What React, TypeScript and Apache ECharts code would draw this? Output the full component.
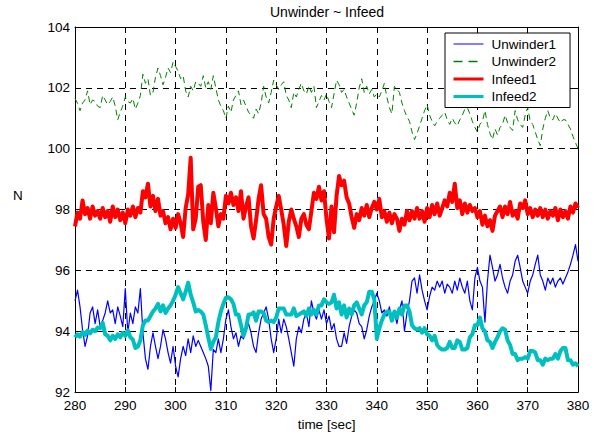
import React, { useEffect, useRef } from "react";
import * as echarts from "echarts";

const T_START = 280;
const T_STEP = 0.5;

const SERIES_NAMES = ["Unwinder1", "Unwinder2", "Infeed1", "Infeed2"];

const UNWINDER1 = [
  95.0, 95.35, 94.8, 94.05, 93.5, 93.85, 94.6, 94.8, 94.25, 94.7,
  94.15, 94.35, 94.6, 95.0, 94.6, 94.7, 94.25, 94.8, 94.5, 94.15,
  95.4, 93.95, 94.6, 94.25, 94.8, 94.6, 95.4, 93.95, 93.1, 92.75,
  93.5, 93.95, 93.5, 93.1, 93.5, 94.05, 93.75, 93.3, 92.95, 93.5,
  92.85, 92.5, 93.1, 93.5, 93.2, 93.75, 93.3, 93.85, 93.5, 93.7,
  93.5, 93.3, 93.1, 92.85, 92.05, 93.4, 93.3, 93.75, 93.3, 93.75,
  94.4, 94.7, 94.15, 93.75, 93.95, 93.5, 93.85, 93.75, 94.05, 94.25,
  93.95, 93.5, 93.3, 93.95, 94.4, 94.6, 94.8, 94.4, 93.75, 93.3,
  93.75, 94.4, 93.95, 94.4, 94.15, 93.75, 93.3, 92.85, 93.75, 94.15,
  93.95, 94.4, 94.6, 94.15, 95.0, 94.6, 94.4, 94.7, 94.4, 94.7,
  94.25, 94.5, 94.05, 94.25, 93.75, 93.5, 93.5, 93.95, 93.6, 94.15,
  94.5, 94.7, 94.6, 94.25, 94.15, 93.75, 94.05, 94.5, 94.8, 95.0,
  95.25, 95.0, 94.6, 94.7, 94.5, 94.8, 94.4, 94.6, 94.25, 94.7,
  95.0, 94.0, 94.6, 95.0, 95.65, 95.75, 95.25, 95.85, 95.35, 95.0,
  94.7, 95.15, 95.45, 95.35, 95.65, 95.45, 95.65, 95.25, 95.55, 95.45,
  95.25, 95.65, 95.35, 95.75, 95.45, 95.25, 95.65, 95.0, 94.7, 95.75,
  96.1, 95.65, 95.45, 94.3, 95.65, 96.5, 96.1, 95.65, 95.85, 96.2,
  95.75, 95.45, 95.25, 95.65, 95.85, 96.3, 96.5, 96.1, 95.65, 95.45,
  95.25, 95.65, 95.85, 96.2, 96.5, 95.85, 95.65, 95.35, 95.75, 95.55,
  95.75, 95.45, 95.65, 95.75, 95.55, 95.75, 95.95, 96.2, 96.5, 96.85,
  96.3,
];

const UNWINDER2 = [
  101.65, 101.5, 101.25, 101.5, 101.6, 101.9, 101.45, 101.6, 101.55, 101.4,
  101.35, 101.75, 101.6, 101.45, 101.55, 101.7, 101.4, 100.95, 101.2, 101.4,
  101.7, 101.55, 101.5, 101.65, 101.3, 101.5, 101.75, 102.45, 102.15, 102.3,
  101.75, 101.85, 102.35, 102.65, 102.4, 102.1, 102.35, 102.65, 102.5, 102.85,
  102.7, 102.55, 102.3, 102.4, 101.9, 101.7, 102.05, 101.9, 102.2, 102.15,
  102.05, 102.4, 102.0, 102.2, 101.95, 102.4, 102.0, 101.6, 101.4, 101.25,
  101.0, 101.4, 101.2, 101.6, 101.75, 101.9, 101.45, 101.6, 101.4, 101.2,
  101.1, 101.0, 101.3, 101.15, 101.5, 102.05, 101.7, 101.5, 101.85, 102.25,
  102.1, 101.95, 102.1, 102.2, 101.75, 101.6, 101.35, 101.85, 101.7, 101.95,
  102.15, 101.9, 101.8, 102.05, 101.85, 102.05, 101.35, 101.55, 101.75, 101.6,
  101.8, 101.55, 101.35, 101.8, 102.25, 102.1, 101.85, 101.95, 101.7, 101.5,
  101.3, 101.1, 101.5, 102.0, 102.3, 101.85, 102.05, 101.8, 101.95, 101.7,
  101.8, 101.7, 101.9, 102.15, 101.7, 101.35, 101.15, 102.05, 101.95, 101.85,
  101.5, 101.25, 101.05, 100.9, 100.55, 100.3, 100.5, 100.75, 101.0, 101.25,
  101.45, 101.1, 100.9, 100.75, 100.9, 101.0, 101.1, 101.2, 100.95, 100.8,
  101.0, 100.85, 100.75, 100.95, 101.1, 101.3, 101.35, 101.15, 100.9, 100.7,
  100.55, 100.8, 100.9, 101.25, 100.8, 100.5, 100.3, 100.65, 100.45, 100.7,
  100.8, 101.1, 100.85, 100.7, 100.6, 101.25, 100.95, 100.8, 100.7, 101.1,
  101.35, 100.9, 100.8, 100.55, 100.3, 100.1, 100.65, 101.0, 101.25, 101.0,
  100.95, 101.15, 101.0, 100.85, 100.95, 100.95, 100.8, 100.65, 100.4, 100.2,
  100.0,
];

const INFEED1 = [
  97.45, 97.9, 97.7, 98.3, 97.85, 98.05, 97.7, 98.1, 97.8, 97.95,
  97.7, 98.05, 97.75, 97.95, 97.6, 98.1, 97.75, 98.0, 97.65, 97.9,
  97.55, 98.0, 97.8, 98.1, 97.75, 98.05, 97.9, 98.6, 98.4, 98.85,
  98.1, 98.45, 97.95, 98.35, 97.8, 97.95, 97.55, 97.75, 97.35, 97.7,
  97.4, 97.85, 97.55, 97.1, 98.05, 98.5, 99.7, 97.35, 97.7, 98.75,
  98.8, 97.6, 97.0, 98.15, 97.55, 98.55, 98.05, 97.45, 97.85, 97.7,
  98.45, 98.2, 98.55, 98.15, 98.4, 97.95, 98.6, 97.7, 98.1, 98.4,
  97.45, 97.05, 97.65, 98.35, 98.8, 97.85, 97.7, 97.1, 96.85, 97.7,
  98.1, 98.45, 98.0, 97.5, 96.8, 97.6, 98.0, 97.7, 97.45, 97.1,
  97.7, 97.85, 97.5, 97.35, 97.95, 98.55, 98.35, 98.75, 98.3, 98.6,
  97.7, 97.05, 98.1, 97.25, 98.45, 99.1, 98.8, 98.95, 98.4, 98.2,
  97.75, 97.4, 97.85, 97.65, 98.05, 97.8, 98.15, 97.75, 98.05, 98.25,
  98.0, 98.35, 97.75, 97.95, 97.6, 97.9, 97.55, 97.85, 97.7, 97.3,
  97.7, 97.5, 97.95, 97.65, 97.95, 97.7, 98.05, 97.7, 97.95, 97.6,
  98.05, 97.75, 98.15, 97.85, 98.2, 97.8, 98.05, 98.3, 98.1, 98.55,
  98.25, 98.85, 98.05, 98.3, 97.85, 98.2, 97.9, 98.15, 97.95, 98.05,
  97.75, 97.95, 97.5, 97.8, 97.45, 97.65, 97.3, 97.8, 97.95, 98.1,
  97.75, 98.1, 97.85, 98.25, 97.8, 97.95, 97.7, 98.2, 98.05, 98.3,
  97.85, 98.05, 97.75, 98.0, 97.8, 98.05, 97.75, 98.0, 97.7, 97.95,
  97.8, 98.05, 97.65, 98.0, 97.75, 97.95, 97.7, 98.1, 97.9, 98.2,
  98.05,
];

const INFEED2 = [
  93.8, 93.9, 93.82, 93.97, 93.88, 94.02, 93.93, 94.05, 94.0, 94.12,
  94.1, 94.28, 93.9, 93.85, 93.7, 93.85, 93.75, 93.9, 93.8, 93.95,
  93.85, 94.03, 93.8, 93.73, 93.45, 93.5, 93.7, 94.2, 94.35, 94.35,
  94.5, 94.65, 94.75, 94.9, 94.65, 94.85, 94.6, 94.75, 94.85, 95.0,
  95.2, 95.45, 95.25, 95.05, 95.3, 95.6, 95.2, 94.95, 94.65, 94.7,
  94.65, 94.55, 94.2, 93.8, 93.42, 93.65, 93.8, 94.3, 94.65, 94.9,
  95.1, 95.12, 95.05, 94.9, 94.55, 94.55, 94.2, 93.85, 94.1, 94.55,
  94.55, 94.62, 94.35, 94.65, 94.65, 94.6, 94.35, 94.3, 94.35, 94.3,
  94.45, 94.75, 94.75, 94.75, 94.55, 94.55, 94.55, 94.75, 94.5, 94.55,
  94.6, 94.65, 94.5, 94.75, 94.55, 94.7, 94.55, 94.85, 94.85, 95.05,
  94.95, 94.9, 94.95, 95.2, 94.75, 94.95, 94.55, 94.85, 94.45, 94.75,
  94.55, 94.85, 94.95, 94.75, 94.55, 94.85, 94.95, 95.3, 95.3, 95.05,
  93.75, 94.1, 94.35, 94.55, 94.65, 94.65, 94.35, 94.65, 94.45, 94.75,
  94.55, 94.85, 94.85, 94.65, 94.2, 94.1, 94.05, 94.1, 93.95, 94.1,
  93.9, 93.85, 93.7, 93.85, 93.55, 93.45, 93.4, 93.4, 93.45, 93.65,
  93.45, 93.45, 93.7, 93.65, 93.4, 93.4, 93.45, 93.8, 93.9, 94.2,
  94.2, 94.45, 94.1, 94.0, 93.7, 93.65, 93.45, 93.65, 93.8, 94.0,
  94.1, 94.05, 93.7, 93.55, 93.25, 93.25, 93.05, 93.1, 93.1, 93.15,
  93.1, 93.35, 93.35, 93.3, 93.05, 93.05, 92.9, 93.1, 93.05, 93.1,
  93.1, 93.25, 93.1, 93.35, 93.45, 93.45, 93.05, 93.05, 92.9, 92.95,
  92.85,
];

const FONT = '"Liberation Sans", Arial, Helvetica, sans-serif';
const FS = 13.5;

const SERIES_STYLE = [
  { color: "#0000ff", width: 1.2, type: "solid" as any },
  { color: "#008000", width: 1, type: [6, 4] as any },
  { color: "#ff0000", width: 4, type: "solid" as any },
  { color: "#00bfbf", width: 4, type: "solid" as any },
];
const LEGEND_WIDTHS = [1, 1.6, 3, 3];

function toPairs(values: number[]) {
  return values.map((v, i) => [T_START + i * T_STEP, v]);
}

export default function App() {
  const ref = useRef<HTMLDivElement>(null);

  useEffect(() => {
    if (!ref.current) return;
    const chart = echarts.init(ref.current, undefined, { renderer: "svg" });

    const axisCommon = {
      axisLine: { show: true, lineStyle: { color: "#000", width: 1 } },
      axisTick: { show: true, inside: true, length: 5, lineStyle: { color: "#000", width: 1 } },
    };

    const allValues = [UNWINDER1, UNWINDER2, INFEED1, INFEED2];

    chart.setOption({
      animation: false,
      backgroundColor: "#fff",
      title: {
        text: "Unwinder ~ Infeed",
        left: 327,
        top: 5,
        padding: 0,
        textAlign: "center",
        textStyle: { fontFamily: FONT, fontSize: 14, fontWeight: "normal", color: "#000" },
      },
      legend: {
        orient: "vertical",
        left: 445,
        top: 33,
        padding: [4, 14, 4, 7],
        itemGap: 3.5,
        itemWidth: 30,
        itemHeight: 14,
        backgroundColor: "#fff",
        borderColor: "#000",
        borderWidth: 1,
        borderRadius: 0,
        itemStyle: { opacity: 0 },
        textStyle: { fontFamily: FONT, fontSize: FS, color: "#000", padding: [0, 0, 0, 3] },
        data: SERIES_NAMES.map((name, i) => ({
          name,
          itemStyle: { opacity: 0 },
          lineStyle: {
            color: SERIES_STYLE[i].color,
            width: LEGEND_WIDTHS[i],
            type: i === 1 ? [9, 6] : "solid",
          },
        })),
      },
      grid: { left: 75, right: 23, top: 27, bottom: 41, containLabel: false },
      xAxis: [
        {
          type: "value",
          position: "bottom",
          min: 280,
          max: 380,
          interval: 10,
          ...axisCommon,
          axisLabel: { color: "#000", fontFamily: FONT, fontSize: FS, margin: 6, lineHeight: 14 },
          splitLine: { show: true, lineStyle: { color: "#000", width: 1, type: [6, 5] } },
          name: "time [sec]",
          nameLocation: "middle",
          nameGap: 15,
          nameTextStyle: { color: "#000", fontFamily: FONT, fontSize: FS, verticalAlign: "top" },
        },
        {
          type: "value",
          position: "top",
          min: 280,
          max: 380,
          interval: 10,
          ...axisCommon,
          axisLabel: { show: false },
          splitLine: { show: false },
        },
      ],
      yAxis: [
        {
          type: "value",
          position: "left",
          min: 92,
          max: 104,
          interval: 2,
          ...axisCommon,
          axisLabel: { color: "#000", fontFamily: FONT, fontSize: FS, margin: 5, lineHeight: 12 },
          splitLine: { show: true, lineStyle: { color: "#000", width: 1, type: [6, 5] } },
        },
        {
          type: "value",
          position: "right",
          min: 92,
          max: 104,
          interval: 2,
          ...axisCommon,
          axisLabel: { show: false },
          splitLine: { show: false },
        },
      ],
      graphic: [
        {
          type: "text",
          left: 13,
          top: 188,
          style: { text: "N", fill: "#000", font: `${FS}px ${FONT}` },
        },
      ],
      series: SERIES_NAMES.map((name, i) => ({
        name,
        type: "line",
        data: toPairs(allValues[i]),
        symbol: "none",
        color: SERIES_STYLE[i].color,
        lineStyle: { ...SERIES_STYLE[i], join: "round" },
      })),
    });

    return () => chart.dispose();
  }, []);

  return (
    <div
      ref={ref}
      style={{ position: "fixed", left: 0, top: 0, width: 601, height: 436, background: "#fff" }}
    />
  );
}
